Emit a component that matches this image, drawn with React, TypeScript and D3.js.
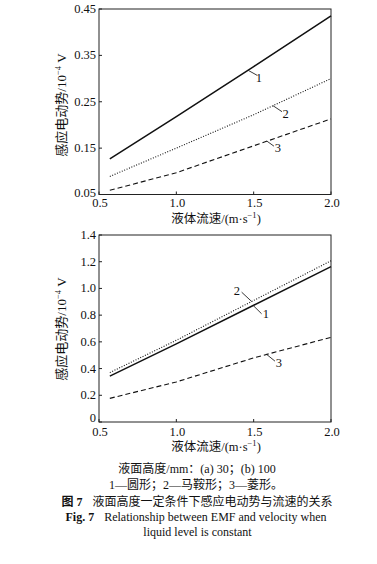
import React from "react";
import * as d3 from "d3";

const velocity = [0.57, 1.0, 1.5, 2.0];

const topCircle = [0.127, 0.218, 0.326, 0.435];
const topSaddle = [0.089, 0.15, 0.222, 0.30];
const topDiamond = [0.059, 0.097, 0.155, 0.213];

const botCircle = [0.344, 0.585, 0.874, 1.163];
const botSaddle = [0.37, 0.612, 0.91, 1.207];
const botDiamond = [0.177, 0.30, 0.48, 0.634];

const xTicks = [0.5, 1.0, 1.5, 2.0];
const topYTicks = [0.05, 0.15, 0.25, 0.35, 0.45];
const botYTicks = [0, 0.2, 0.4, 0.6, 0.8, 1.0, 1.2, 1.4];

const seriesNames = ["1", "2", "3"];

const captionLines = [
  "液面高度/mm：(a) 30；(b) 100",
  "1—圆形；2—马鞍形；3—菱形。",
];

const SERIF = "'Liberation Serif', 'DejaVu Serif', serif";
const CJK = "'Liberation Serif', 'Noto Sans CJK SC', serif";

type Ann = { atX: number; lx: number; ly: number; tx: number; ty: number };

const styles = [
  { width: 1.5, dash: "none" },
  { width: 1.1, dash: "1 1.6" },
  { width: 1.1, dash: "5 3" },
];

function interp(xs: number[], ys: number[], x: number) {
  const i = Math.max(0, Math.min(xs.length - 2, d3.bisectRight(xs, x) - 1));
  const t = (x - xs[i]) / (xs[i + 1] - xs[i]);
  return ys[i] + t * (ys[i + 1] - ys[i]);
}

function Panel(props: {
  top: number;
  bottom: number;
  yDomain: [number, number];
  yTicks: number[];
  yFmt: (v: number) => string;
  series: number[][];
  anns: Ann[];
  tickBase: number;
  labelBase: number;
  yLabelCenter: number;
  minOffset: number;
}) {
  const { top, bottom, yDomain, yTicks, yFmt, series, anns } = props;
  const x = d3.scaleLinear().domain([0.5, 2.0]).range([99, 331]);
  const y = d3.scaleLinear().domain(yDomain).range([bottom, top]);
  const line = d3
    .line<number>()
    .x((_, i) => x(velocity[i]))
    .y((d) => y(d));
  return (
    <g>
      <rect x={99} y={top} width={232} height={bottom - top} fill="none" stroke="#222" strokeWidth={1} />
      {xTicks.map((t) => (
        <g key={"x" + t}>
          <line x1={x(t)} x2={x(t)} y1={bottom} y2={bottom - 3} stroke="#222" />
          <text x={x(t) + 1} y={props.tickBase} fontSize={12.5} fontFamily={SERIF} textAnchor="middle" fill="#111">
            {t.toFixed(1)}
          </text>
        </g>
      ))}
      {yTicks.map((t) => (
        <g key={"y" + t}>
          <line x1={99} x2={102} y1={y(t)} y2={y(t)} stroke="#222" />
          <text
            x={96}
            y={y(t) + (t === yDomain[0] ? props.minOffset : 4)}
            fontSize={12.5}
            fontFamily={SERIF}
            textAnchor="end"
            fill="#111"
          >
            {yFmt(t)}
          </text>
        </g>
      ))}
      {series.map((s, i) => (
        <path
          key={"s" + i}
          d={line(s) || ""}
          fill="none"
          stroke="#111"
          strokeWidth={styles[i].width}
          strokeDasharray={styles[i].dash}
        />
      ))}
      {anns.map((a, i) => {
        const px = x(a.atX);
        const py = y(interp(velocity, series[i], a.atX));
        return (
          <g key={"a" + i}>
            <line x1={px} y1={py} x2={px + a.lx} y2={py + a.ly} stroke="#222" strokeWidth={0.9} />
            <text x={px + a.tx} y={py + a.ty} fontSize={12.5} fontFamily={SERIF} textAnchor="middle" fill="#111">
              {seriesNames[i]}
            </text>
          </g>
        );
      })}
      <text x={216} y={props.labelBase} fontSize={12.5} fontFamily={CJK} textAnchor="middle" fill="#111">
        液体流速/(m·s<tspan dy={-5} fontSize={8.5}>−1</tspan>
        <tspan dy={5}>)</tspan>
      </text>
      <text
        transform={`translate(66,${props.yLabelCenter}) rotate(-90)`}
        fontSize={13}
        fontFamily={CJK}
        textAnchor="middle"
        fill="#111"
      >
        感应电动势/10<tspan dy={-5} fontSize={8.5}>−4</tspan>
        <tspan dy={5}> V</tspan>
      </text>
    </g>
  );
}

export default function App() {
  const topAnns: Ann[] = [
    { atX: 1.463, lx: 9, ly: 5, tx: 11, ty: 12 },
    { atX: 1.625, lx: 9, ly: 6, tx: 12.5, ty: 12 },
    { atX: 1.586, lx: 7, ly: 5, tx: 11, ty: 10.7 },
  ];
  const botAnns: Ann[] = [
    { atX: 1.497, lx: 8.4, ly: 8.3, tx: 12.7, ty: 13 },
    { atX: 1.487, lx: -10, ly: -9.3, tx: -14.7, ty: -6 },
    { atX: 1.584, lx: 8.3, ly: 6.7, tx: 12.3, ty: 13 },
  ];
  return (
    <div style={{ position: "absolute", left: 0, top: 0 }}>
      <svg width={377} height={564} viewBox="0 0 377 564" style={{ display: "block", background: "#fff" }}>
        <rect x={0} y={0} width={377} height={564} fill="#fff" />
        <Panel
          top={9}
          bottom={194.5}
          yDomain={[0.05, 0.45]}
          yTicks={topYTicks}
          yFmt={(v) => v.toFixed(2)}
          series={[topCircle, topSaddle, topDiamond]}
          anns={topAnns}
          tickBase={207}
          labelBase={223}
          yLabelCenter={105}
          minOffset={2}
        />
        <Panel
          top={235}
          bottom={422}
          yDomain={[0, 1.4]}
          yTicks={botYTicks}
          yFmt={(v) => (v === 0 ? "0" : v.toFixed(1))}
          series={[botCircle, botSaddle, botDiamond]}
          anns={botAnns}
          tickBase={436}
          labelBase={450.5}
          yLabelCenter={329}
          minOffset={0}
        />
        <text x={197} y={473} fontSize={12} fontFamily={CJK} textAnchor="middle" fill="#111">
          {captionLines[0]}
        </text>
        <text x={196} y={489} fontSize={12} fontFamily={CJK} textAnchor="middle" fill="#111">
          {captionLines[1]}
        </text>
        <text x={197} y={505.5} fontSize={12} fontFamily={CJK} textAnchor="middle" fill="#111">
          <tspan fontWeight="bold">图 7</tspan>
          <tspan dx={10}>液面高度一定条件下感应电动势与流速的关系</tspan>
        </text>
        <text x={196} y={520.5} fontSize={12} fontFamily={SERIF} textAnchor="middle" fill="#111">
          <tspan fontWeight="bold">Fig. 7</tspan>
          <tspan dx={10}>Relationship between EMF and velocity when</tspan>
        </text>
        <text x={197.5} y={535.5} fontSize={12} fontFamily={SERIF} textAnchor="middle" fill="#111">
          liquid level is constant
        </text>
      </svg>
    </div>
  );
}
